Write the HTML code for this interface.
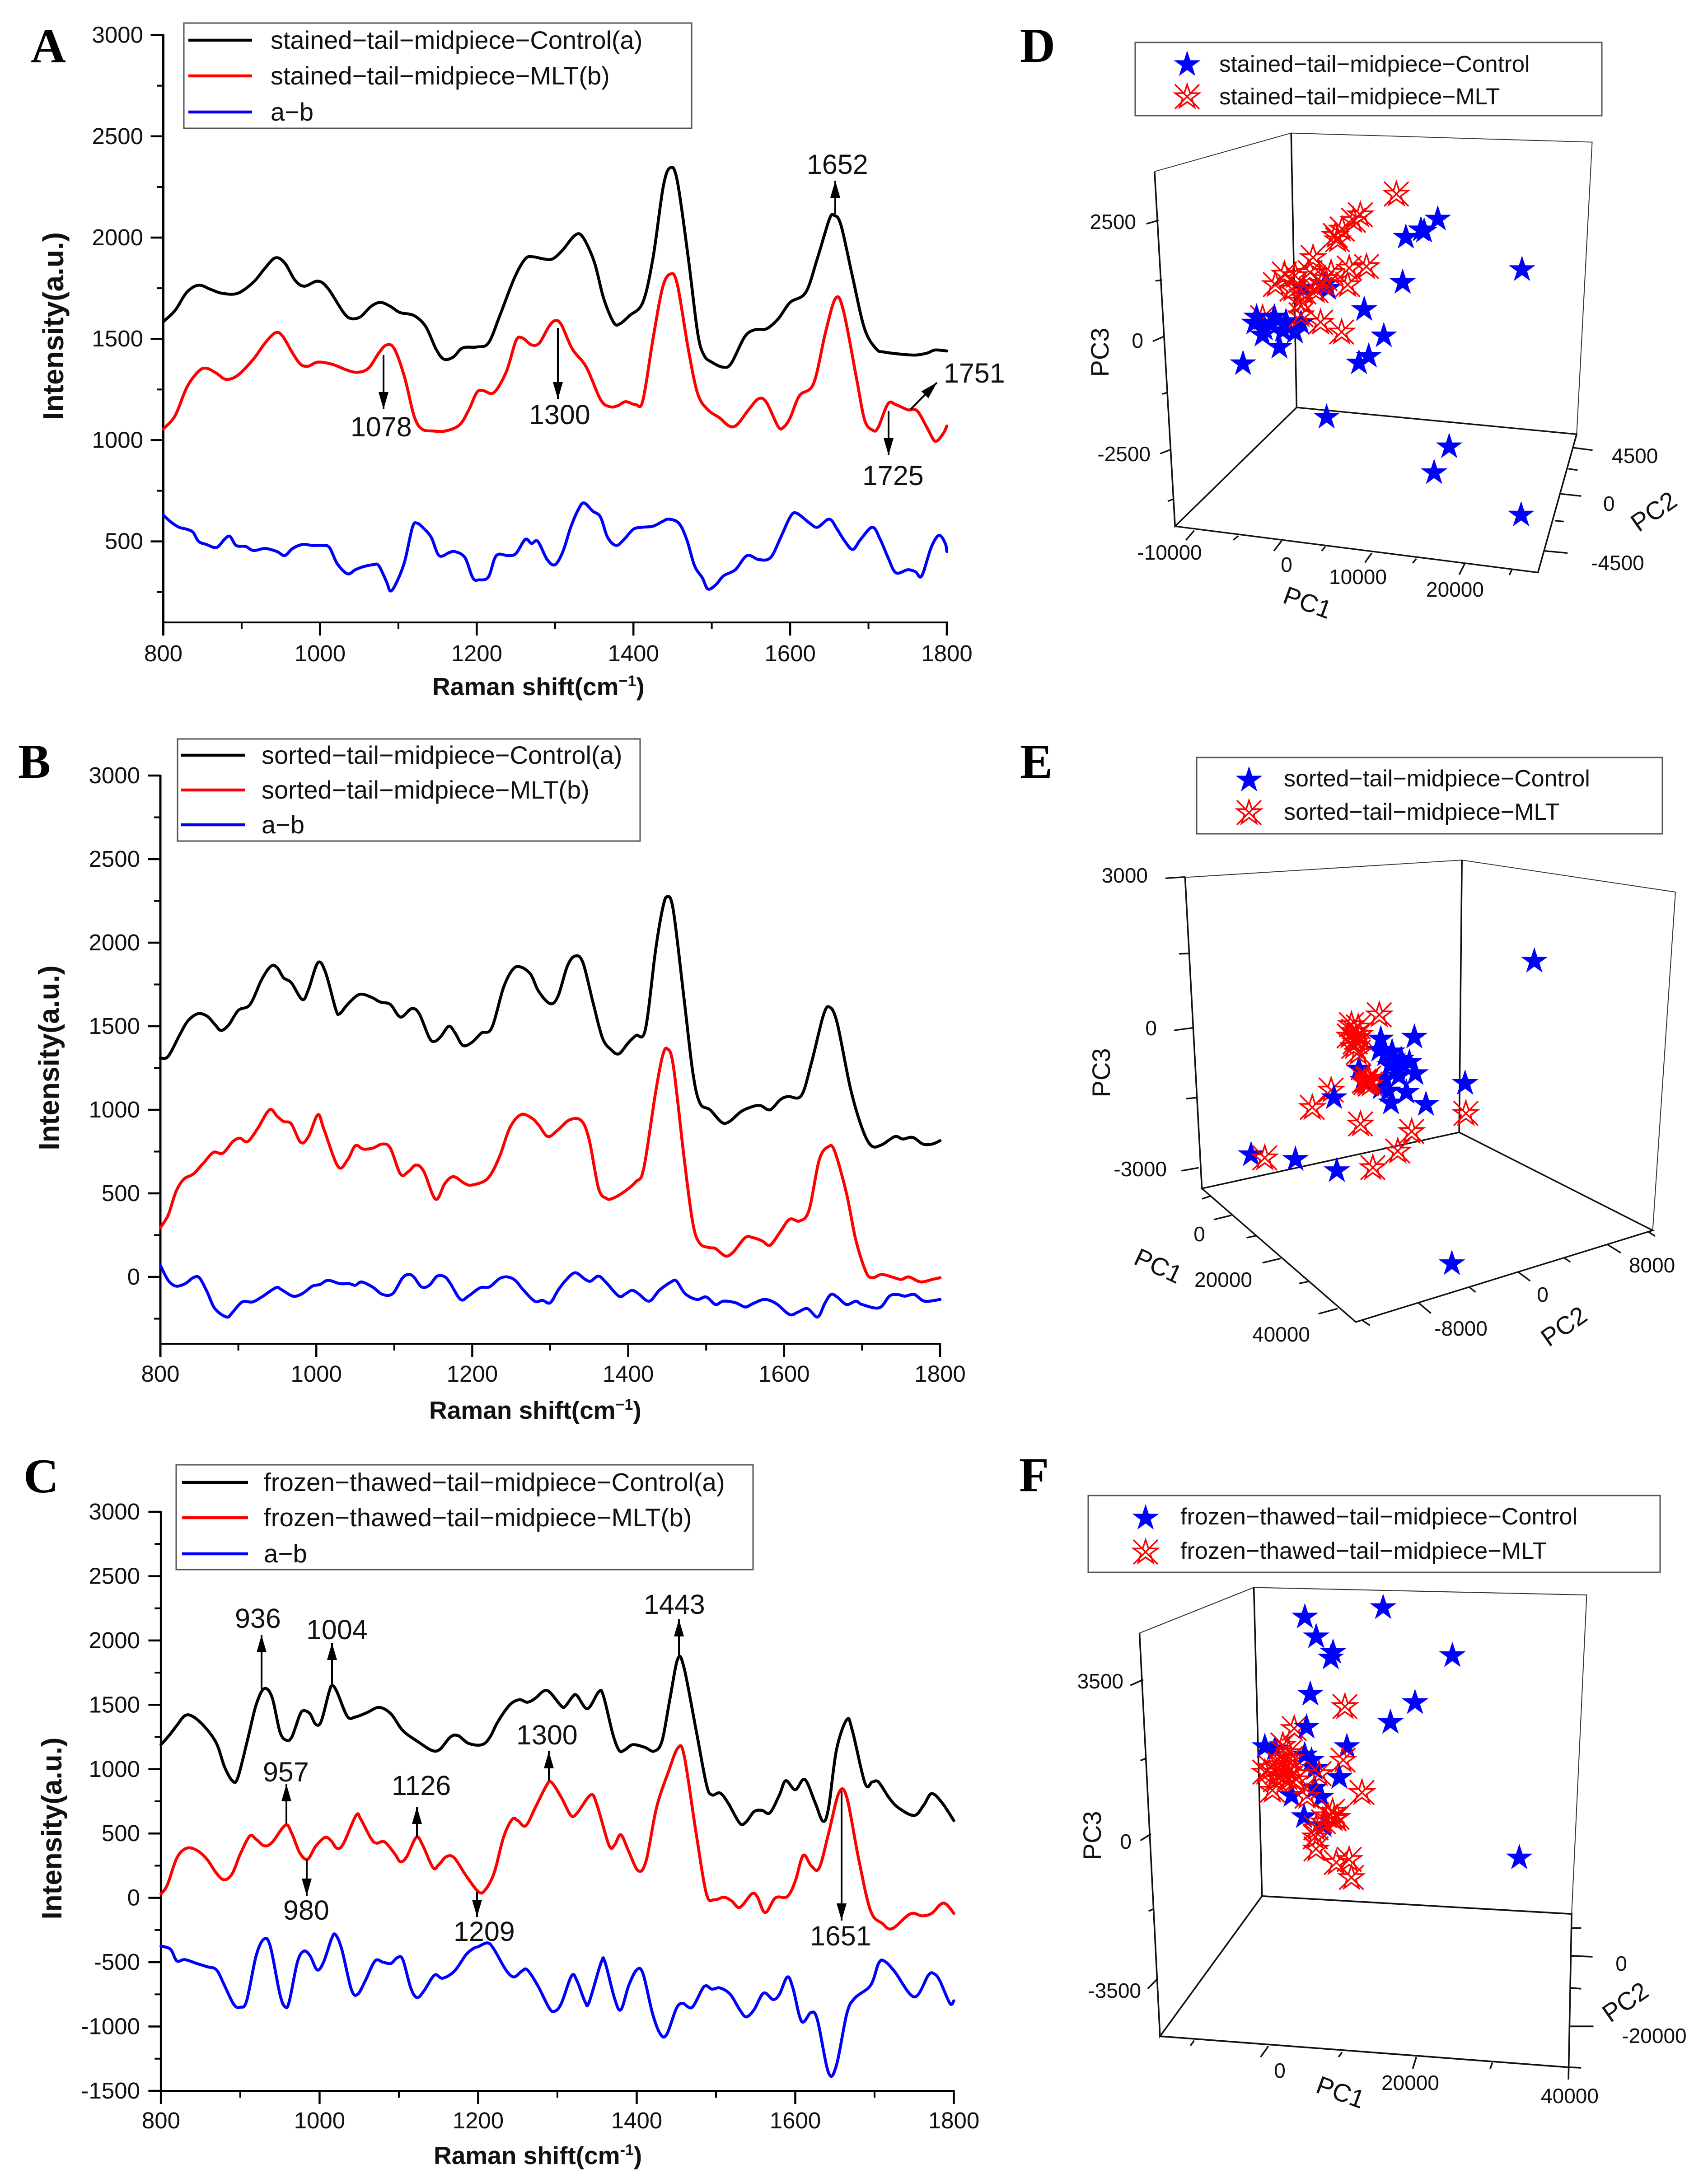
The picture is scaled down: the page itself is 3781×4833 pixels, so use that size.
<!DOCTYPE html>
<html lang="en">
<head>
<meta charset="utf-8">
<title>Raman spectra and PCA of tail midpiece</title>
<style>
html,body{margin:0;padding:0;background:#fff;}
svg{display:block;}
text{font-family:"Liberation Sans",Arial,sans-serif;fill:#111;}
.letter{font-family:"Liberation Serif",serif;font-weight:bold;font-size:108px;fill:#000;}
.tick{font-size:51px;}
.leg{font-size:56px;}
.ann{font-size:61px;}
.title{font-size:55px;font-weight:bold;}
.t3d{font-size:46px;}
.pc{font-size:56px;}
.leg3d{font-size:52px;}
.box{fill:#fff;stroke:#555;stroke-width:3;}
.arr{stroke:#000;stroke-width:4;marker-end:url(#arrow);}
.f{stroke:#111;stroke-width:3.5;fill:none;}
.ft{stroke:#333;stroke-width:2;fill:none;}
</style>
</head>
<body>
<svg id="fig" xmlns="http://www.w3.org/2000/svg" width="3781" height="4833" viewBox="0 0 3781 4833">
<defs>
<marker id="arrow" markerUnits="userSpaceOnUse" markerWidth="38" markerHeight="22" refX="38" refY="11" orient="auto">
<polygon points="0,0 38,11 0,22" fill="#000"/>
</marker>
</defs>
<rect width="3781" height="4833" fill="#fff"/>

<!-- panel letters -->
<text class="letter" x="68" y="138">A</text>
<text class="letter" x="40" y="1722">B</text>
<text class="letter" x="52" y="3304">C</text>
<text class="letter" x="2258" y="137">D</text>
<text class="letter" x="2258" y="1722">E</text>
<text class="letter" x="2256" y="3301">F</text>

<g id="layerA"></g>
<g id="layerB"></g>
<g id="layerC"></g>

<!-- axis titles -->
<text class="title" x="957" y="1539">Raman shift(cm<tspan dy="-20" font-size="34">−1</tspan><tspan dy="20">)</tspan></text>
<text class="title" x="950" y="3141">Raman shift(cm<tspan dy="-20" font-size="34">−1</tspan><tspan dy="20">)</tspan></text>
<text class="title" x="960" y="4791">Raman shift(cm<tspan dy="-20" font-size="34">-1</tspan><tspan dy="20">)</tspan></text>
<text class="title" style="font-size:64px" transform="translate(140,722) rotate(-90)" text-anchor="middle">Intensity(a.u.)</text>
<text class="title" style="font-size:63px" transform="translate(130,2342) rotate(-90)" text-anchor="middle">Intensity(a.u.)</text>
<text class="title" style="font-size:62px" transform="translate(136,4048) rotate(-90)" text-anchor="middle">Intensity(a.u.)</text>

<!-- legend A -->
<g>
<rect class="box" x="407" y="51" width="1124" height="233"/>
<line x1="417" x2="558" y1="89" y2="89" stroke="#000" stroke-width="6.5"/>
<line x1="417" x2="558" y1="168" y2="168" stroke="#f00" stroke-width="6.5"/>
<line x1="417" x2="558" y1="248" y2="248" stroke="#00f" stroke-width="6.5"/>
<text class="leg" x="599" y="108">stained−tail−midpiece−Control(a)</text>
<text class="leg" x="599" y="187">stained−tail−midpiece−MLT(b)</text>
<text class="leg" x="599" y="267">a−b</text>
</g>
<!-- legend B -->
<g>
<rect class="box" x="393" y="1636" width="1024" height="226"/>
<line x1="401" x2="543" y1="1672" y2="1672" stroke="#000" stroke-width="6.5"/>
<line x1="401" x2="543" y1="1749" y2="1749" stroke="#f00" stroke-width="6.5"/>
<line x1="401" x2="543" y1="1826" y2="1826" stroke="#00f" stroke-width="6.5"/>
<text class="leg" x="579" y="1691">sorted−tail−midpiece−Control(a)</text>
<text class="leg" x="579" y="1768">sorted−tail−midpiece−MLT(b)</text>
<text class="leg" x="579" y="1845">a−b</text>
</g>
<!-- legend C -->
<g>
<rect class="box" x="390" y="3243" width="1277" height="232"/>
<line x1="403" x2="549" y1="3282" y2="3282" stroke="#000" stroke-width="6.5"/>
<line x1="403" x2="549" y1="3360" y2="3360" stroke="#f00" stroke-width="6.5"/>
<line x1="403" x2="549" y1="3440" y2="3440" stroke="#00f" stroke-width="6.5"/>
<text class="leg" style="font-size:56.5px" x="584" y="3301">frozen−thawed−tail−midpiece−Control(a)</text>
<text class="leg" style="font-size:56.5px" x="584" y="3379">frozen−thawed−tail−midpiece−MLT(b)</text>
<text class="leg" style="font-size:56.5px" x="584" y="3459">a−b</text>
</g>

<!-- annotations A -->
<g>
<text class="ann" x="1786" y="385">1652</text>
<line class="arr" x1="1849" y1="474" x2="1849" y2="400"/>
<text class="ann" x="776" y="966">1078</text>
<line class="arr" x1="849" y1="786" x2="849" y2="906"/>
<text class="ann" x="1171" y="939">1300</text>
<line class="arr" x1="1235" y1="726" x2="1235" y2="884"/>
<text class="ann" x="1909" y="1074">1725</text>
<line class="arr" x1="1967" y1="910" x2="1967" y2="1008"/>
<text class="ann" x="2089" y="847">1751</text>
<line class="arr" x1="2016" y1="906" x2="2074" y2="847"/>
</g>
<!-- annotations C -->
<g>
<text class="ann" x="520" y="3604">936</text>
<line class="arr" x1="579" y1="3739" x2="579" y2="3620"/>
<text class="ann" x="678" y="3629">1004</text>
<line class="arr" x1="735" y1="3729" x2="735" y2="3637"/>
<text class="ann" x="1425" y="3573">1443</text>
<line class="arr" x1="1503" y1="3669" x2="1503" y2="3585"/>
<text class="ann" x="1143" y="3862">1300</text>
<line class="arr" x1="1215" y1="3942" x2="1215" y2="3877"/>
<text class="ann" x="582" y="3944">957</text>
<line class="arr" x1="634" y1="4038" x2="634" y2="3950"/>
<text class="ann" x="867" y="3974">1126</text>
<line class="arr" x1="923" y1="4067" x2="923" y2="4000"/>
<text class="ann" x="627" y="4250">980</text>
<line class="arr" x1="679" y1="4116" x2="679" y2="4197"/>
<text class="ann" x="1004" y="4297">1209</text>
<line class="arr" x1="1056" y1="4189" x2="1056" y2="4244"/>
<text class="ann" x="1793" y="4307">1651</text>
<line class="arr" x1="1863" y1="3965" x2="1863" y2="4252"/>
</g>

<!-- 3D frame D (drawn in crop coordinates) -->
<g transform="translate(2200,0) scale(1.008,0.9566)">
<path class="ft" d="M353 397L653 308L1314 329L1280 1005"/>
<path class="f" d="M653 308L665 943M353 397L398 1218L665 943L1280 1005L1195 1325L398 1218"/>
<path class="f" d="M335 518L362 510M355 650L370 648M349 790L375 778M370 912L382 908M365 1050L390 1040M382 1160L395 1155"/>
<path class="f" d="M440 1228L422 1250M537 1240L526 1250M632 1252L615 1275M728 1265L720 1275M830 1280L815 1302M928 1293L920 1303M1034 1305L1022 1330M1138 1318L1132 1331"/>
<path class="f" d="M1272 1036L1315 1042M1262 1085L1282 1088M1245 1143L1290 1148M1232 1205L1252 1207M1210 1275L1260 1280"/>
</g>
<g>
<text class="t3d" x="2515" y="507" text-anchor="end">2500</text>
<text class="t3d" x="2531" y="770" text-anchor="end">0</text>
<text class="t3d" x="2547" y="1021" text-anchor="end">-2500</text>
<text class="pc" transform="translate(2454,780) rotate(-90)" text-anchor="middle">PC3</text>
<text class="t3d" x="2589" y="1239" text-anchor="middle">-10000</text>
<text class="t3d" x="2848" y="1266" text-anchor="middle">0</text>
<text class="t3d" x="3006" y="1293" text-anchor="middle">10000</text>
<text class="t3d" x="3221" y="1321" text-anchor="middle">20000</text>
<text class="pc" transform="translate(2888,1352) rotate(20)" text-anchor="middle">PC1</text>
<text class="t3d" x="3568" y="1025">4500</text>
<text class="t3d" x="3549" y="1131">0</text>
<text class="t3d" x="3522" y="1262">-4500</text>
<text class="pc" transform="translate(3672,1148) rotate(-35)" text-anchor="middle">PC2</text>
</g>

<!-- 3D frame E -->
<g transform="translate(2200,1600) scale(1.008,0.9566)">
<path class="ft" d="M420 358L1028 318L1497 392L1447 1175"/>
<path class="f" d="M1028 318L1022 948M420 358L457 1078L1022 948L1447 1175L795 1387L457 1078"/>
<path class="f" d="M377 360L420 357M407 535L428 534M396 712L438 706M422 870L445 868M412 1037L450 1030"/>
<path class="f" d="M457 1102L478 1095M483 1150L522 1140M555 1192L577 1187M590 1250L630 1240M670 1298L692 1293M713 1368L755 1356"/>
<path class="f" d="M808 1382L826 1395M932 1342L960 1367M1043 1305L1058 1318M1150 1270L1178 1292M1252 1238L1266 1248M1348 1208L1377 1227M1437 1178L1452 1188"/>
</g>
<g>
<text class="t3d" x="2541" y="1954" text-anchor="end">3000</text>
<text class="t3d" x="2561" y="2292" text-anchor="end">0</text>
<text class="t3d" x="2583" y="2604" text-anchor="end">-3000</text>
<text class="pc" transform="translate(2457,2375) rotate(-90)" text-anchor="middle">PC3</text>
<text class="t3d" x="2655" y="2748" text-anchor="middle">0</text>
<text class="t3d" x="2708" y="2849" text-anchor="middle">20000</text>
<text class="t3d" x="2836" y="2970" text-anchor="middle">40000</text>
<text class="pc" transform="translate(2556,2820) rotate(25)" text-anchor="middle">PC1</text>
<text class="t3d" x="3657" y="2817" text-anchor="middle">8000</text>
<text class="t3d" x="3415" y="2882" text-anchor="middle">0</text>
<text class="t3d" x="3234" y="2957" text-anchor="middle">-8000</text>
<text class="pc" transform="translate(3473,2952) rotate(-35)" text-anchor="middle">PC2</text>
</g>

<!-- 3D frame F -->
<g transform="translate(2200,3200) scale(1.008,1.0415)">
<path class="ft" d="M320 399L571 302L1302 318L1269 996"/>
<path class="f" d="M571 302L589 958M320 399L365 1256L589 958L1269 996L1262 1348M365 1256L1262 1322"/>
<path class="f" d="M300 510L328 498M322 670L335 665M322 840L345 826M340 990L352 985M338 1155L360 1133"/>
<path class="f" d="M440 1265L432 1276M603 1277L586 1300M765 1290L757 1300M928 1300L920 1325M1095 1312L1090 1325"/>
<path class="f" d="M1269 1026L1290 1026M1267 1085L1315 1087M1265 1153L1290 1155M1263 1235L1317 1235M1262 1322L1290 1323"/>
</g>
<g>
<text class="t3d" x="2487" y="3738" text-anchor="end">3500</text>
<text class="t3d" x="2505" y="4093" text-anchor="end">0</text>
<text class="t3d" x="2526" y="4423" text-anchor="end">-3500</text>
<text class="pc" transform="translate(2437,4064) rotate(-90)" text-anchor="middle">PC3</text>
<text class="t3d" x="2833" y="4600" text-anchor="middle">0</text>
<text class="t3d" x="3122" y="4627" text-anchor="middle">20000</text>
<text class="t3d" x="3475" y="4656" text-anchor="middle">40000</text>
<text class="pc" transform="translate(2961,4650) rotate(20)" text-anchor="middle">PC1</text>
<text class="t3d" x="3589" y="4363" text-anchor="middle">0</text>
<text class="t3d" x="3662" y="4523" text-anchor="middle">-20000</text>
<text class="pc" transform="translate(3609,4448) rotate(-35)" text-anchor="middle">PC2</text>
</g>

<g id="layerD"></g>
<g id="layerE"></g>
<g id="layerF"></g>

<!-- 3D legends -->
<g>
<rect class="box" x="2513" y="94" width="1033" height="162"/>
<text class="leg3d" style="font-size:51px" x="2699" y="159">stained−tail−midpiece−Control</text>
<text class="leg3d" style="font-size:51px" x="2699" y="231">stained−tail−midpiece−MLT</text>
</g>
<g>
<rect class="box" x="2649" y="1677" width="1031" height="169"/>
<text class="leg3d" x="2842" y="1741">sorted−tail−midpiece−Control</text>
<text class="leg3d" x="2842" y="1815">sorted−tail−midpiece−MLT</text>
</g>
<g>
<rect class="box" x="2409" y="3311" width="1266" height="170"/>
<text class="leg3d" style="font-size:52.2px" x="2613" y="3375">frozen−thawed−tail−midpiece−Control</text>
<text class="leg3d" style="font-size:52.2px" x="2613" y="3451">frozen−thawed−tail−midpiece−MLT</text>
</g>
<g id="legendMarkers"></g>
</svg>

<script>
// ---- shared axis values ----
const xMajorTicks = [800,1000,1200,1400,1600,1800];
const xMinorTicks = [900,1100,1300,1500,1700];
const aYMajorTicks = [500,1000,1500,2000,2500,3000];
const aYMinorTicks = [250,750,1250,1750,2250,2750];
const bYMajorTicks = [0,500,1000,1500,2000,2500,3000];
const bYMinorTicks = [-250,250,750,1250,1750,2250,2750];
const cYMajorTicks = [-1500,-1000,-500,0,500,1000,1500,2000,2500,3000];
const cYMinorTicks = [-1250,-750,-250,250,750,1250,1750,2250,2750];

// ---- panel A spectra: [Raman shift, intensity] ----
const aControl = [[800,1585],[815,1640],[830,1730],[845,1765],[860,1745],[875,1725],[895,1725],[915,1780],[930,1850],[943,1900],[955,1875],[968,1790],[980,1760],[997,1785],[1010,1750],[1030,1630],[1040,1600],[1052,1610],[1065,1660],[1077,1680],[1090,1660],[1102,1630],[1120,1615],[1135,1560],[1148,1450],[1158,1400],[1170,1410],[1182,1455],[1200,1460],[1215,1480],[1230,1620],[1248,1800],[1262,1895],[1272,1905],[1285,1895],[1297,1895],[1310,1940],[1325,2010],[1335,2005],[1350,1880],[1362,1700],[1375,1580],[1383,1575],[1395,1615],[1412,1680],[1425,1900],[1438,2250],[1447,2345],[1456,2280],[1470,1900],[1482,1530],[1490,1420],[1500,1385],[1515,1360],[1525,1380],[1542,1510],[1555,1545],[1570,1550],[1585,1600],[1600,1680],[1620,1730],[1635,1900],[1650,2090],[1656,2110],[1665,2060],[1680,1800],[1695,1550],[1710,1450],[1720,1435],[1740,1425],[1760,1420],[1775,1430],[1785,1445],[1800,1440]];
const aMlt = [[800,1055],[815,1120],[830,1260],[845,1340],[855,1355],[868,1330],[880,1300],[895,1320],[915,1400],[930,1480],[943,1530],[952,1515],[965,1430],[975,1375],[985,1365],[997,1385],[1015,1375],[1035,1345],[1048,1335],[1062,1355],[1075,1430],[1085,1470],[1095,1450],[1108,1310],[1120,1120],[1130,1055],[1145,1045],[1160,1045],[1178,1075],[1190,1150],[1200,1235],[1208,1245],[1222,1235],[1238,1340],[1250,1490],[1258,1505],[1270,1470],[1280,1480],[1292,1560],[1300,1590],[1308,1570],[1322,1450],[1340,1360],[1358,1200],[1370,1165],[1380,1170],[1390,1190],[1403,1175],[1412,1195],[1425,1500],[1437,1750],[1447,1820],[1456,1770],[1470,1450],[1482,1230],[1495,1150],[1510,1110],[1522,1070],[1532,1075],[1547,1150],[1560,1205],[1570,1185],[1585,1065],[1592,1065],[1600,1110],[1612,1220],[1630,1280],[1645,1530],[1658,1700],[1668,1640],[1685,1300],[1695,1100],[1705,1050],[1712,1060],[1725,1180],[1735,1175],[1750,1150],[1762,1145],[1775,1060],[1785,995],[1795,1030],[1800,1070]];
const aDiff = [[800,630],[810,595],[820,570],[830,560],[838,545],[845,500],[855,485],[868,470],[878,510],[885,525],[893,480],[905,475],[915,455],[930,465],[945,450],[955,430],[965,465],[978,485],[990,480],[1003,480],[1012,470],[1022,390],[1035,340],[1045,360],[1055,375],[1068,385],[1075,380],[1085,300],[1090,255],[1098,300],[1108,400],[1118,570],[1124,590],[1132,565],[1142,520],[1152,430],[1165,445],[1172,450],[1185,420],[1195,320],[1203,310],[1215,325],[1225,430],[1240,430],[1250,440],[1262,510],[1270,490],[1278,500],[1290,410],[1300,385],[1310,450],[1320,570],[1330,660],[1337,690],[1348,650],[1358,620],[1367,520],[1378,480],[1388,510],[1400,560],[1412,570],[1425,575],[1438,600],[1445,610],[1458,590],[1468,510],[1478,380],[1488,320],[1495,265],[1505,285],[1515,330],[1530,360],[1545,430],[1560,410],[1575,420],[1588,520],[1600,620],[1608,640],[1625,590],[1635,570],[1650,610],[1660,560],[1670,500],[1680,460],[1690,510],[1705,570],[1715,510],[1725,420],[1735,345],[1750,360],[1760,350],[1768,330],[1780,470],[1790,530],[1798,490],[1800,450]];

// ---- panel B spectra ----
const bControl = [[800,1310],[810,1320],[825,1450],[835,1530],[848,1575],[860,1560],[870,1510],[878,1475],[888,1510],[900,1595],[915,1630],[930,1780],[942,1860],[950,1850],[958,1790],[968,1760],[982,1660],[990,1720],[1002,1880],[1012,1820],[1025,1600],[1030,1575],[1040,1630],[1055,1690],[1070,1675],[1082,1645],[1095,1630],[1108,1555],[1122,1605],[1132,1575],[1145,1430],[1152,1410],[1160,1440],[1170,1500],[1178,1460],[1188,1385],[1200,1405],[1212,1460],[1225,1490],[1240,1730],[1252,1840],[1262,1855],[1275,1810],[1285,1710],[1300,1635],[1310,1680],[1322,1860],[1332,1920],[1342,1880],[1355,1640],[1367,1430],[1378,1360],[1388,1335],[1400,1400],[1410,1445],[1422,1480],[1435,1950],[1444,2200],[1450,2275],[1458,2190],[1472,1650],[1483,1220],[1492,1040],[1505,1000],[1520,925],[1530,930],[1545,990],[1560,1020],[1570,1025],[1582,1000],[1595,1060],[1605,1080],[1622,1085],[1635,1280],[1650,1560],[1658,1615],[1668,1520],[1685,1130],[1700,890],[1712,785],[1725,790],[1742,840],[1752,825],[1765,835],[1778,795],[1790,795],[1800,815]];
const bMlt = [[800,295],[810,370],[820,510],[830,585],[842,615],[855,680],[868,745],[880,740],[893,810],[902,830],[912,810],[925,890],[940,1000],[950,960],[958,930],[968,915],[980,805],[990,840],[1002,970],[1010,880],[1028,660],[1040,700],[1050,785],[1060,765],[1072,770],[1085,795],[1095,770],[1108,615],[1118,630],[1128,670],[1138,630],[1153,465],[1165,560],[1176,600],[1190,560],[1200,550],[1220,590],[1235,720],[1248,890],[1262,970],[1275,955],[1285,910],[1297,840],[1310,880],[1325,940],[1340,935],[1350,820],[1362,530],[1372,470],[1380,470],[1395,510],[1410,570],[1420,650],[1435,1100],[1444,1320],[1450,1365],[1458,1260],[1472,700],[1483,320],[1492,200],[1505,175],[1512,170],[1525,125],[1535,150],[1550,235],[1560,235],[1572,215],[1582,190],[1595,270],[1607,345],[1620,335],[1632,400],[1645,700],[1657,780],[1665,750],[1680,500],[1692,220],[1705,30],[1713,-5],[1725,15],[1738,0],[1750,-15],[1760,0],[1775,-30],[1790,-15],[1800,-5]];
const bDiff = [[800,70],[810,-20],[820,-55],[832,-40],[842,-5],[850,-5],[860,-90],[870,-190],[885,-240],[892,-215],[905,-150],[918,-150],[930,-120],[948,-65],[955,-75],[970,-115],[982,-100],[995,-55],[1005,-45],[1015,-20],[1030,-40],[1042,-40],[1050,-50],[1058,-30],[1072,-60],[1085,-105],[1098,-100],[1110,-10],[1118,15],[1125,0],[1135,-60],[1145,-50],[1155,5],[1165,0],[1172,-40],[1185,-135],[1195,-115],[1210,-65],[1222,-60],[1235,-10],[1245,0],[1255,-20],[1265,-75],[1280,-145],[1290,-140],[1300,-155],[1310,-80],[1320,-20],[1332,25],[1345,-15],[1352,-25],[1362,5],[1372,-35],[1388,-115],[1397,-100],[1405,-80],[1413,-100],[1427,-145],[1440,-80],[1455,-30],[1462,-25],[1473,-100],[1488,-135],[1500,-120],[1512,-165],[1522,-145],[1538,-155],[1550,-180],[1560,-160],[1575,-135],[1590,-160],[1607,-225],[1618,-210],[1630,-190],[1643,-240],[1652,-160],[1660,-105],[1668,-120],[1680,-165],[1692,-145],[1700,-165],[1722,-185],[1735,-115],[1745,-105],[1755,-115],[1767,-105],[1780,-145],[1800,-135]];

// ---- panel C spectra ----
const cControl = [[800,1190],[810,1260],[820,1340],[830,1415],[840,1410],[855,1330],[870,1200],[880,1020],[890,910],[897,935],[910,1250],[920,1500],[930,1625],[940,1560],[950,1290],[958,1225],[965,1250],[975,1420],[980,1455],[988,1430],[995,1350],[1002,1370],[1012,1600],[1016,1650],[1022,1600],[1035,1410],[1045,1405],[1060,1440],[1075,1480],[1090,1430],[1105,1300],[1125,1210],[1142,1145],[1152,1155],[1165,1250],[1175,1260],[1188,1200],[1205,1190],[1215,1250],[1225,1370],[1240,1500],[1252,1540],[1262,1520],[1272,1550],[1282,1605],[1290,1600],[1305,1490],[1310,1490],[1320,1570],[1325,1570],[1338,1470],[1352,1600],[1358,1570],[1370,1270],[1378,1145],[1385,1150],[1395,1190],[1410,1170],[1422,1140],[1432,1220],[1442,1550],[1452,1860],[1460,1780],[1475,1300],[1488,880],[1495,800],[1505,815],[1515,740],[1530,580],[1538,590],[1548,670],[1558,680],[1568,660],[1580,800],[1588,910],[1600,840],[1612,920],[1625,740],[1635,595],[1642,700],[1652,1150],[1665,1385],[1672,1300],[1688,890],[1697,900],[1705,900],[1718,780],[1730,700],[1750,640],[1762,720],[1772,810],[1785,740],[1800,600]];
const cMlt = [[800,30],[808,100],[820,310],[832,385],[845,370],[858,300],[870,190],[880,140],[890,190],[900,340],[912,480],[920,455],[930,405],[940,430],[957,565],[965,500],[975,350],[985,300],[995,400],[1007,470],[1015,440],[1022,385],[1030,420],[1046,640],[1052,610],[1065,460],[1072,425],[1082,435],[1095,340],[1102,280],[1110,320],[1122,470],[1130,410],[1143,235],[1150,255],[1160,320],[1170,310],[1185,170],[1200,50],[1208,55],[1220,190],[1232,470],[1243,610],[1250,600],[1260,560],[1272,700],[1285,860],[1292,900],[1305,780],[1317,640],[1325,660],[1342,800],[1350,720],[1365,410],[1372,410],[1380,490],[1390,360],[1402,210],[1412,290],[1425,700],[1440,980],[1452,1165],[1460,1100],[1475,500],[1488,30],[1498,-15],[1510,5],[1520,-25],[1530,-75],[1545,30],[1552,10],[1562,-115],[1575,0],[1590,10],[1600,130],[1610,330],[1620,250],[1630,230],[1642,500],[1655,815],[1665,780],[1680,300],[1695,-100],[1710,-200],[1722,-240],[1745,-125],[1760,-140],[1772,-120],[1787,-40],[1800,-120]];
const cDiff = [[800,-375],[812,-400],[820,-490],[830,-480],[845,-510],[858,-535],[870,-560],[880,-680],[892,-830],[900,-850],[908,-800],[920,-450],[930,-320],[938,-380],[950,-750],[957,-850],[962,-800],[972,-500],[980,-415],[988,-450],[997,-560],[1005,-500],[1015,-320],[1020,-285],[1028,-400],[1040,-710],[1048,-750],[1058,-640],[1070,-490],[1080,-500],[1090,-510],[1098,-465],[1105,-480],[1115,-700],[1123,-775],[1132,-720],[1145,-600],[1155,-625],[1170,-570],[1185,-440],[1195,-390],[1200,-380],[1212,-350],[1220,-400],[1235,-560],[1245,-615],[1255,-570],[1262,-560],[1275,-680],[1290,-860],[1297,-880],[1305,-820],[1318,-605],[1325,-650],[1335,-810],[1340,-810],[1355,-505],[1360,-500],[1372,-780],[1380,-870],[1390,-680],[1400,-560],[1408,-590],[1420,-900],[1430,-1060],[1438,-1060],[1450,-860],[1458,-820],[1470,-850],[1485,-690],[1495,-710],[1505,-700],[1518,-750],[1530,-870],[1538,-925],[1548,-870],[1560,-740],[1572,-790],[1580,-750],[1590,-615],[1597,-700],[1608,-960],[1620,-890],[1628,-950],[1642,-1360],[1652,-1300],[1665,-900],[1675,-780],[1695,-680],[1705,-510],[1712,-490],[1725,-570],[1750,-770],[1768,-600],[1775,-590],[1782,-640],[1795,-820],[1800,-800]];

// ---- PCA scatter values: [PC1, PC3] ----
const dControl = [[26750,1620],[17500,2790],[16000,2510],[15650,2540],[14000,2370],[18750,-2480],[17100,-3080],[26650,-4060],[2728,1184],[5124,1289],[5456,1184],[13640,1324],[9424,697],[11572,87],[9920,-383],[8844,-540],[5292,-1794]];
const dMlt = [[12950,3350],[9000,2870],[8250,2740],[7000,2540],[6250,2390],[6500,2290],[3804,1881],[660,1498],[-332,1254],[1820,1463],[3472,1533],[5788,1533],[7772,1637],[9672,1672],[7604,1254],[4796,1289],[5124,1393],[2812,1080],[1488,1150],[4132,1115],[2480,870],[4628,383],[6944,157],[-1736,488]];
const dControlTop = [[-2396,523],[-446,523],[-1736,105],[114,-174],[-3886,-557],[1819,174],[2480,383],[828,418],[-828,348],[-2644,383],[496,209],[-1488,243]];
const dMltTop = [[2480,557]];

const eControl = [[24350,1590],[11180,-168],[7494,-210],[8734,-507],[9727,-680],[10634,-750],[11294,-1012],[7990,-576],[8487,-820],[9310,-889],[5094,-907],[5510,-1168],[10302,-1447],[8318,-1412],[8616,-1691],[12455,-1725],[16750,-1238],[-1880,-2997],[2664,-3258],[-6750,-2890],[15300,-5410],[7326,-471],[9479,-1064],[7990,-1134],[7494,-1343],[8814,-646]];
const eMlt = [[7326,329],[4270,103],[5015,51],[4519,-53],[4846,-193],[4682,-298],[5015,-541],[6007,-1168],[5838,-1238],[6170,-1134],[5674,-1203],[6334,-1273],[2039,-1412],[-30,-1813],[5263,-2196],[10882,-2370],[9360,-2823],[6617,-3206],[16834,-1952],[-5250,-2980],[4023,-158],[5178,-123],[4519,-402]];
const eControlTop = [[2366,-1569]];
const eMltTop = [];

const fControl = [[15600,4950],[5280,4750],[6780,4330],[9000,4000],[8700,3880],[24720,3930],[6000,3110],[19800,2930],[16560,2510],[12,1995],[1340,1947],[10820,1995],[5268,1819],[6160,1707],[6557,1531],[6557,1115],[7450,923],[3540,955],[5170,507],[7747,315],[33540,-370]];
const fMlt = [[10560,2830],[3879,2363],[2392,2011],[3183,1851],[803,1531],[1600,1435],[2392,1371],[3183,1307],[3980,1403],[1005,1051],[12,1435],[3386,1723],[4177,1275],[1993,1595],[2790,1531],[1398,1275],[5563,923],[10323,1691],[12804,1003],[8937,603],[8342,507],[9133,443],[7747,379],[9532,475],[6753,251],[6753,-197],[6658,59],[9431,-485],[11121,-421],[11418,-805],[7152,1403]];
const fControlTop = [[5505,2411],[9830,1339]];
const fMltTop = [];

const NS = 'http://www.w3.org/2000/svg';
function mk(tag, attrs, parent) {
  const el = document.createElementNS(NS, tag);
  for (const k in attrs) el.setAttribute(k, attrs[k]);
  parent.appendChild(el);
  return el;
}

function linearScale(d0, d1, r0, r1) {
  return v => r0 + (v - d0) * (r1 - r0) / (d1 - d0);
}

function smoothPath(pts) {
  let d = 'M' + pts[0][0].toFixed(1) + ' ' + pts[0][1].toFixed(1);
  for (let i = 0; i < pts.length - 1; i++) {
    const p0 = pts[Math.max(i - 1, 0)], p1 = pts[i], p2 = pts[i + 1], p3 = pts[Math.min(i + 2, pts.length - 1)];
    const c1x = p1[0] + (p2[0] - p0[0]) / 6, c1y = p1[1] + (p2[1] - p0[1]) / 6;
    const c2x = p2[0] - (p3[0] - p1[0]) / 6, c2y = p2[1] - (p3[1] - p1[1]) / 6;
    d += 'C' + c1x.toFixed(1) + ' ' + c1y.toFixed(1) + ' ' + c2x.toFixed(1) + ' ' + c2y.toFixed(1) + ' ' + p2[0].toFixed(1) + ' ' + p2[1].toFixed(1);
  }
  return d;
}

function drawSpectrumPanel(cfg) {
  const g = document.getElementById(cfg.layer);
  const X = linearScale(800, 1800, cfg.xl, cfg.xr);
  const Y = linearScale(cfg.yMin, 3000, cfg.yb, cfg.yt);
  // axes
  const yAxis = mk('line', {x1: cfg.xl, x2: cfg.xl, y1: cfg.yt - 2, y2: cfg.yb + 29, stroke: '#000', 'stroke-width': 5}, g);
  
  
  const xAxis = mk('line', {x1: cfg.xl, x2: cfg.xr + 2, y1: cfg.yb, y2: cfg.yb, stroke: '#000', 'stroke-width': 4}, g);
  
  
  // ticks
  cfg.yMajor.forEach(v => {
    const t = mk('line', {x1: cfg.xl - 28, x2: cfg.xl, y1: Y(v), y2: Y(v), stroke: '#000', 'stroke-width': 4.5}, g);
    
    
    const lab = mk('text', {class: 'tick', x: cfg.yLabelX, y: Y(v) + 17, 'text-anchor': 'end'}, g);
    
    
    lab.textContent = String(v);
  });
  cfg.yMinor.forEach(v => {
    const t = mk('line', {x1: cfg.xl - 14, x2: cfg.xl, y1: Y(v), y2: Y(v), stroke: '#000', 'stroke-width': 4}, g);
    
    
  });
  xMajorTicks.forEach(v => {
    const t = mk('line', {x1: X(v), x2: X(v), y1: cfg.yb, y2: cfg.yb + 29, stroke: '#000', 'stroke-width': 4.5}, g);
    
    
    const lab = mk('text', {class: 'tick', x: X(v), y: cfg.xLabelY, 'text-anchor': 'middle'}, g);
    
    
    lab.textContent = String(v);
  });
  xMinorTicks.forEach(v => {
    const t = mk('line', {x1: X(v), x2: X(v), y1: cfg.yb, y2: cfg.yb + 15, stroke: '#000', 'stroke-width': 4}, g);
    
    
  });
  // series
  cfg.series.forEach(s => {
    const pts = s.values.map(p => [X(p[0]), Y(p[1])]);
    const path = mk('path', {d: smoothPath(pts), fill: 'none', stroke: s.color, 'stroke-width': 6.5, 'stroke-linejoin': 'round', 'stroke-linecap': 'round'}, g);
    
    
  });
}

drawSpectrumPanel({id: 'a', layer: 'layerA', xl: 361.5, xr: 2096, yt: 77.6, yb: 1378, yMin: 100, yMajor: aYMajorTicks, yMinor: aYMinorTicks, yLabelX: 317, xLabelY: 1464,
  series: [{name: 'control', color: '#000', values: aControl}, {name: 'mlt', color: '#f00', values: aMlt}, {name: 'difference', color: '#00f', values: aDiff}]});
drawSpectrumPanel({id: 'b', layer: 'layerB', xl: 355, xr: 2081, yt: 1717, yb: 2975, yMin: -400, yMajor: bYMajorTicks, yMinor: bYMinorTicks, yLabelX: 310, xLabelY: 3059,
  series: [{name: 'control', color: '#000', values: bControl}, {name: 'mlt', color: '#f00', values: bMlt}, {name: 'difference', color: '#00f', values: bDiff}]});
drawSpectrumPanel({id: 'c', layer: 'layerC', xl: 356.4, xr: 2111.5, yt: 3347, yb: 4629, yMin: -1500, yMajor: cYMajorTicks, yMinor: cYMinorTicks, yLabelX: 310, xLabelY: 4712,
  series: [{name: 'control', color: '#000', values: cControl}, {name: 'mlt', color: '#f00', values: cMlt}, {name: 'difference', color: '#00f', values: cDiff}]});

function starPoints(cx, cy, R) {
  const pts = [];
  for (let i = 0; i < 10; i++) {
    const r = i % 2 ? R * 0.382 : R;
    const a = -Math.PI / 2 + i * Math.PI / 5;
    pts.push((cx + r * Math.cos(a)).toFixed(1) + ',' + (cy + r * Math.sin(a)).toFixed(1));
  }
  return pts.join(' ');
}
function drawBlueStar(parent, cx, cy, name) {
  const el = mk('polygon', {points: starPoints(cx, cy + 2, 29.5), fill: '#00f', stroke: '#00f', 'stroke-width': 1}, parent);
  
  
}
function drawRedStar(parent, cx, cy, name) {
  const g = mk('g', {}, parent);
  
  
  mk('polygon', {points: starPoints(cx, cy + 1, 28), fill: 'none', stroke: '#f00', 'stroke-width': 3.5}, g);
  mk('line', {x1: cx - 27, y1: cy - 27, x2: cx + 27, y2: cy + 27, stroke: '#f00', 'stroke-width': 3.5}, g);
  mk('line', {x1: cx + 27, y1: cy - 27, x2: cx - 27, y2: cy + 27, stroke: '#f00', 'stroke-width': 3.5}, g);
}
function drawScatter(cfg) {
  const g = document.getElementById(cfg.layer);
  const X = v => cfg.x0 + v * cfg.kx;
  const Y = v => cfg.y0 - v * cfg.ky;
  cfg.control.forEach(p => drawBlueStar(g, X(p[0]), Y(p[1]), 'control-point-' + cfg.id));
  cfg.mlt.forEach(p => drawRedStar(g, X(p[0]), Y(p[1]), 'mlt-point-' + cfg.id));
  cfg.controlTop.forEach(p => drawBlueStar(g, X(p[0]), Y(p[1]), 'control-point-' + cfg.id));
  cfg.mltTop.forEach(p => drawRedStar(g, X(p[0]), Y(p[1]), 'mlt-point-' + cfg.id));
}
drawScatter({id: 'd', layer: 'layerD', x0: 2830, kx: 0.02016, y0: 750, ky: 0.09566, control: dControl, mlt: dMlt, controlTop: dControlTop, mltTop: dMltTop});
drawScatter({id: 'e', layer: 'layerE', x0: 2905.6, kx: 0.02016, y0: 2278.2, ky: 0.09566, control: eControl, mlt: eMlt, controlTop: eControlTop, mltTop: eMltTop});
drawScatter({id: 'f', layer: 'layerF', x0: 2799.8, kx: 0.0168, y0: 4072.8, ky: 0.10415, control: fControl, mlt: fMlt, controlTop: fControlTop, mltTop: fMltTop});

const lm = document.getElementById('legendMarkers');
drawBlueStar(lm, 2628, 141, 'legend-marker-control-d');
drawRedStar(lm, 2628, 214, 'legend-marker-mlt-d');
drawBlueStar(lm, 2765, 1725, 'legend-marker-control-e');
drawRedStar(lm, 2765, 1799, 'legend-marker-mlt-e');
drawBlueStar(lm, 2536, 3359, 'legend-marker-control-f');
drawRedStar(lm, 2536, 3436, 'legend-marker-mlt-f');
</script>
</body>
</html>
